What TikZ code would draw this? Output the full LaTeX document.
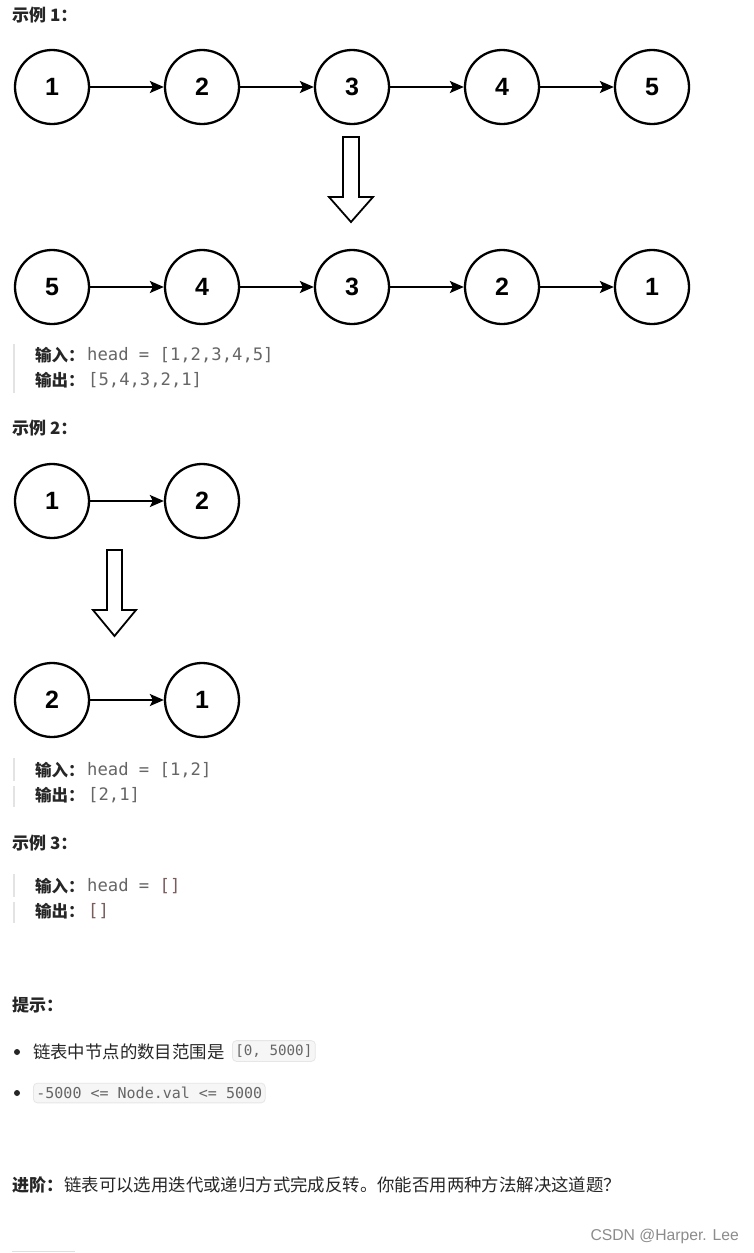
\documentclass[tikz,border=0pt]{standalone}
\usepackage{fontspec}
\setmainfont{Liberation Sans}
\newfontfamily\cjk{Noto Sans CJK SC}
\newfontfamily\cmono{DejaVu Sans Mono}
\usetikzlibrary{arrows.meta}
\definecolor{codegray}{HTML}{666666}
\definecolor{codebrown}{HTML}{7A5C5C}
\definecolor{barcol}{HTML}{E3E3E3}
\definecolor{boxfill}{HTML}{F6F6F7}
\definecolor{boxline}{HTML}{E6E6E6}
\definecolor{txt}{HTML}{262626}
\tikzset{
  lnode/.style={circle,draw=black,line width=2.3pt,minimum size=74pt,inner sep=0pt,
     font=\fontsize{25}{25}\selectfont\bfseries},
  link/.style={line width=2pt,-{Stealth[length=14pt,width=12pt,inset=3pt]}},
  hollow/.style={draw=black,line width=1.8pt,fill=white,line join=miter},
  head/.style={anchor=west,inner sep=0pt,text=txt,font=\cjk\bfseries\fontsize{17}{17}\selectfont},
  lab/.style={anchor=west,inner sep=0pt,text=txt,font=\cjk\bfseries\fontsize{16.5}{16.5}\selectfont},
  code/.style={anchor=west,inner sep=0pt,text=codegray,font=\cmono\fontsize{17.2}{17.2}\selectfont},
  body/.style={anchor=west,inner sep=0pt,text=txt,font=\cjk\fontsize{17.4}{17.4}\selectfont},
  qbar/.style={draw=barcol,line width=2.5pt},
  codebox/.style={anchor=west,draw=boxline,fill=boxfill,rounded corners=4pt,line width=0.8pt,
     inner xsep=3pt,inner ysep=4pt,text=codegray,font=\cmono\fontsize{14.2}{14.2}\selectfont},
}
\begin{document}
\begin{tikzpicture}[x=1pt,y=-1pt]
\useasboundingbox (0,0) rectangle (754,1253);
\fill[white] (0,0) rectangle (754,1253);

% ---------- Example 1 ----------
\node[head] (h1) at (12,15) {示例 1：};
\foreach \v [count=\i] in {1,2,3,4,5} {
  \node[lnode] (a\i) at ({52+150*(\i-1)},87) {\v};
}
\foreach \v [count=\i] in {5,4,3,2,1} {
  \node[lnode] (b\i) at ({52+150*(\i-1)},287) {\v};
}
\foreach \i/\j in {1/2,2/3,3/4,4/5} {
  \draw[link] (a\i) -- (a\j);
  \draw[link] (b\i) -- (b\j);
}
\coordinate (arr1) at (351,137);
\draw[hollow] (arr1) ++(-8,0) -- ++(16,0) -- ++(0,60) -- ++(14,0) -- ++(-22,25)
   -- ++(-22,-25) -- ++(14,0) -- cycle;

\draw[qbar] (14,344) -- (14,393);
\node[lab] (in1) at (35,355) {输入：};
\node[code] (ci1) at (87,355) {head = [1,2,3,4,5]};
\node[lab] (out1) at (35,380) {输出：};
\node[code] (co1) at (88,380) {[5,4,3,2,1]};

% ---------- Example 2 ----------
\node[head] (h2) at (12,428) {示例 2：};
\node[lnode] (c1) at (52,501) {1};
\node[lnode] (c2) at (202,501) {2};
\draw[link] (c1) -- (c2);
\node[lnode] (d1) at (52,700) {2};
\node[lnode] (d2) at (202,700) {1};
\draw[link] (d1) -- (d2);
\coordinate (arr2) at (114.5,550);
\draw[hollow] (arr2) ++(-7.5,0) -- ++(15,0) -- ++(0,60) -- ++(14,0) -- ++(-21.5,26)
   -- ++(-21.5,-26) -- ++(14,0) -- cycle;

\draw[qbar] (14,758) -- (14,781);
\draw[qbar] (14,786) -- (14,807);
\node[lab] (in2) at (35,770) {输入：};
\node[code] (ci2) at (87,770) {head = [1,2]};
\node[lab] (out2) at (35,795) {输出：};
\node[code] (co2) at (88,795) {[2,1]};

% ---------- Example 3 ----------
\node[head] (h3) at (12,843) {示例 3：};
\draw[qbar] (14,874) -- (14,897);
\draw[qbar] (14,902) -- (14,923);
\node[lab] (in3) at (35,886) {输入：};
\node[code] (ci3) at (87,886) {head = \textcolor{codebrown}{[]}};
\node[lab] (out3) at (35,911) {输出：};
\node[code,text=codebrown] (co3) at (88,911) {[]};

% ---------- Hints ----------
\node[head] (h4) at (12,1005) {提示：};
\fill[txt] (17,1052) circle (3pt);
\node[body] (t1) at (33,1052) {链表中节点的数目范围是};
\node[codebox] (k1) at (232,1051) {[0, 5000]};
\fill[txt] (17,1093) circle (3pt);
\node[codebox,font=\cmono\fontsize{15}{15}\selectfont] (k2) at (33,1093) {-5000 <= Node.val <= 5000};

% ---------- Follow-up ----------
\node[head] (h5) at (12,1185) {进阶：};
\node[body] (t2) at (64,1185) {链表可以选用迭代或递归方式完成反转。你能否用两种方法解决这道题？};

\node[anchor=east,inner sep=0pt,text=black!45,font=\fontsize{15.7}{15.7}\selectfont] (wm) at (739,1236) {CSDN @Harper. Lee};
\draw[black!12,line width=1pt] (12,1251) -- (75,1251);
\end{tikzpicture}
\end{document}
